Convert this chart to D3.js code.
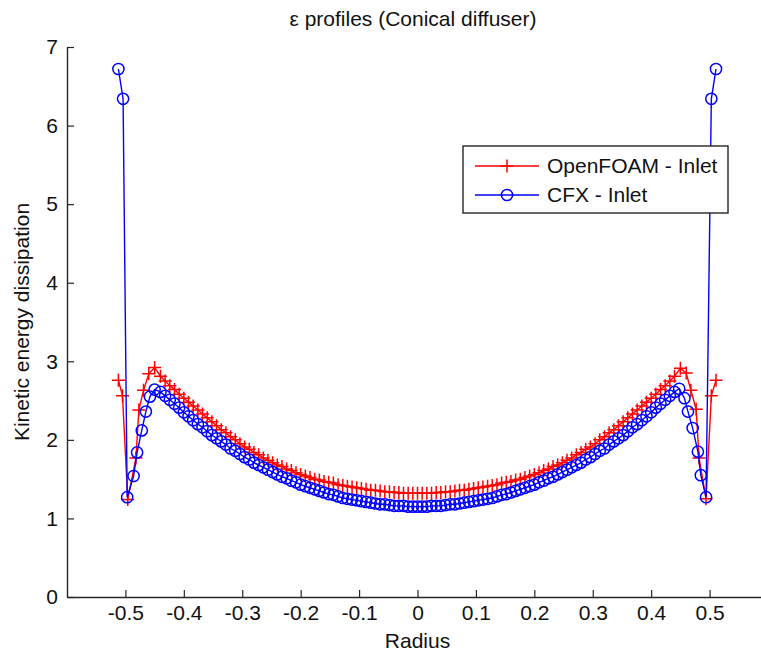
<!DOCTYPE html>
<html>
<head>
<meta charset="utf-8">
<script src="https://cdn.jsdelivr.net/npm/d3@7"></script>
<style>
  html, body { margin: 0; padding: 0; background: #fff; }
  svg { display: block; }
  text { font-family: "Liberation Sans", Arial, sans-serif; fill: #111; }
</style>
</head>
<body>
<div id="chart"></div>
<script>
// ---------- data ----------
const chartTitle = "ε profiles (Conical diffuser)";
const xLabel = "Radius";
const yLabel = "Kinetic energy dissipation";
const seriesNames = ["OpenFOAM - Inlet", "CFX - Inlet"];

const xTicks = [-0.5, -0.4, -0.3, -0.2, -0.1, 0, 0.1, 0.2, 0.3, 0.4, 0.5];
const xTickLabels = ["-0.5", "-0.4", "-0.3", "-0.2", "-0.1", "0", "0.1", "0.2", "0.3", "0.4", "0.5"];
const yTicks = [0, 1, 2, 3, 4, 5, 6, 7];
const yTickLabels = ["0", "1", "2", "3", "4", "5", "6", "7"];

const radiusOpenFOAM = [
  -0.512, -0.505, -0.496, -0.482, -0.477, -0.469, -0.460, -0.450,
  -0.440, -0.432, -0.424, -0.416, -0.408, -0.400, -0.392, -0.384, -0.376, -0.368,
  -0.360, -0.352, -0.344, -0.336, -0.328, -0.320, -0.312, -0.304, -0.296, -0.288,
  -0.280, -0.272, -0.264, -0.256, -0.248, -0.240, -0.232, -0.224, -0.216, -0.208,
  -0.200, -0.192, -0.184, -0.176, -0.168, -0.160, -0.152, -0.144, -0.136, -0.128,
  -0.120, -0.112, -0.104, -0.096, -0.088, -0.080, -0.072, -0.064, -0.056, -0.048,
  -0.040, -0.032, -0.024, -0.016, -0.008, 0.000,
  0.008, 0.016, 0.024, 0.032, 0.040, 0.048, 0.056, 0.064, 0.072, 0.080,
  0.088, 0.096, 0.104, 0.112, 0.120, 0.128, 0.136, 0.144, 0.152, 0.160,
  0.168, 0.176, 0.184, 0.192, 0.200, 0.208, 0.216, 0.224, 0.232, 0.240,
  0.248, 0.256, 0.264, 0.272, 0.280, 0.288, 0.296, 0.304, 0.312, 0.320,
  0.328, 0.336, 0.344, 0.352, 0.360, 0.368, 0.376, 0.384, 0.392, 0.400,
  0.408, 0.416, 0.424, 0.432, 0.440,
  0.450, 0.460, 0.468, 0.477, 0.482, 0.494, 0.503, 0.511
];
const epsOpenFOAM = [
  2.76, 2.56, 1.24, 1.77, 2.38, 2.63, 2.84, 2.92,
  2.81, 2.75, 2.69, 2.64, 2.58, 2.53, 2.48, 2.43, 2.38, 2.33,
  2.28, 2.23, 2.18, 2.13, 2.09, 2.04, 2.00, 1.95, 1.91, 1.88,
  1.84, 1.81, 1.77, 1.74, 1.71, 1.68, 1.66, 1.63, 1.61, 1.58,
  1.56, 1.54, 1.52, 1.50, 1.49, 1.47, 1.46, 1.45, 1.43, 1.42,
  1.41, 1.40, 1.39, 1.38, 1.37, 1.36, 1.36, 1.35, 1.34, 1.34,
  1.33, 1.33, 1.32, 1.32, 1.32, 1.32,
  1.32, 1.32, 1.32, 1.33, 1.33, 1.34, 1.34, 1.35, 1.36, 1.36,
  1.37, 1.38, 1.39, 1.40, 1.41, 1.42, 1.43, 1.45, 1.46, 1.47,
  1.49, 1.50, 1.52, 1.54, 1.56, 1.58, 1.61, 1.63, 1.66, 1.68,
  1.71, 1.74, 1.77, 1.81, 1.84, 1.88, 1.91, 1.95, 2.00, 2.04,
  2.09, 2.13, 2.18, 2.23, 2.28, 2.33, 2.38, 2.43, 2.48, 2.53,
  2.58, 2.64, 2.69, 2.75, 2.81,
  2.91, 2.85, 2.63, 2.39, 1.77, 1.25, 2.56, 2.76
];

const radiusCFX = [
  -0.512, -0.504, -0.497, -0.486, -0.480, -0.472, -0.465, -0.458, -0.450,
  -0.440, -0.432, -0.424, -0.416, -0.408, -0.400, -0.392, -0.384, -0.376, -0.368,
  -0.360, -0.352, -0.344, -0.336, -0.328, -0.320, -0.312, -0.304, -0.296, -0.288,
  -0.280, -0.272, -0.264, -0.256, -0.248, -0.240, -0.232, -0.224, -0.216, -0.208,
  -0.200, -0.192, -0.184, -0.176, -0.168, -0.160, -0.152, -0.144, -0.136, -0.128,
  -0.120, -0.112, -0.104, -0.096, -0.088, -0.080, -0.072, -0.064, -0.056, -0.048,
  -0.040, -0.032, -0.024, -0.016, -0.008, 0.000,
  0.008, 0.016, 0.024, 0.032, 0.040, 0.048, 0.056, 0.064, 0.072, 0.080,
  0.088, 0.096, 0.104, 0.112, 0.120, 0.128, 0.136, 0.144, 0.152, 0.160,
  0.168, 0.176, 0.184, 0.192, 0.200, 0.208, 0.216, 0.224, 0.232, 0.240,
  0.248, 0.256, 0.264, 0.272, 0.280, 0.288, 0.296, 0.304, 0.312, 0.320,
  0.328, 0.336, 0.344, 0.352, 0.360, 0.368, 0.376, 0.384, 0.392, 0.400,
  0.408, 0.416, 0.424, 0.432, 0.440,
  0.448, 0.457, 0.463, 0.471, 0.480, 0.485, 0.494, 0.503, 0.511
];
const epsCFX = [
  6.72, 6.34, 1.27, 1.54, 1.84, 2.12, 2.36, 2.55, 2.64,
  2.61, 2.56, 2.51, 2.46, 2.41, 2.35, 2.30, 2.25, 2.20, 2.16,
  2.11, 2.06, 2.02, 1.98, 1.94, 1.89, 1.86, 1.82, 1.78, 1.75,
  1.71, 1.68, 1.65, 1.62, 1.59, 1.56, 1.53, 1.51, 1.48, 1.46,
  1.43, 1.41, 1.39, 1.37, 1.35, 1.33, 1.31, 1.30, 1.28, 1.26,
  1.25, 1.24, 1.23, 1.22, 1.21, 1.20, 1.19, 1.18, 1.18, 1.17,
  1.16, 1.16, 1.16, 1.15, 1.15, 1.15,
  1.15, 1.15, 1.16, 1.16, 1.16, 1.17, 1.18, 1.18, 1.19, 1.20,
  1.21, 1.22, 1.23, 1.24, 1.25, 1.26, 1.28, 1.30, 1.31, 1.33,
  1.35, 1.37, 1.39, 1.41, 1.43, 1.46, 1.48, 1.51, 1.53, 1.56,
  1.59, 1.62, 1.65, 1.68, 1.71, 1.75, 1.78, 1.82, 1.86, 1.89,
  1.94, 1.98, 2.02, 2.06, 2.11, 2.16, 2.20, 2.25, 2.30, 2.35,
  2.41, 2.46, 2.51, 2.56, 2.61,
  2.65, 2.53, 2.36, 2.15, 1.85, 1.55, 1.27, 6.34, 6.72
];

// ---------- drawing ----------
const W = 761, H = 653;
const svg = d3.select("#chart").append("svg").attr("width", W).attr("height", H);

const x = d3.scaleLinear().domain([-0.6, 0.6]).range([67, 768]);
const y = d3.scaleLinear().domain([0, 7]).range([597, 47]);

const FONT = 21;

// axes
const xAxis = d3.axisBottom(x).tickValues(xTicks)
  .tickFormat((d, i) => xTickLabels[i])
  .tickSizeInner(-7).tickSizeOuter(0).tickPadding(8);
const gx = svg.append("g").attr("transform", `translate(0,${y(0)})`).call(xAxis);

const yAxis = d3.axisLeft(y).tickValues(yTicks)
  .tickFormat((d, i) => yTickLabels[i])
  .tickSizeInner(-7).tickSizeOuter(0).tickPadding(9);
const gy = svg.append("g").attr("transform", `translate(${x(-0.6)},0)`).call(yAxis);

[gx, gy].forEach(g => {
  g.select(".domain").attr("stroke", "#262626").attr("stroke-width", 1.4);
  g.selectAll(".tick line").attr("stroke", "#262626").attr("stroke-width", 1.2);
  g.selectAll(".tick text").attr("font-size", FONT)
    .attr("font-family", "'Liberation Sans', Arial, sans-serif").attr("fill", "#111");
});

// title and labels
svg.append("text").attr("x", 413).attr("y", 26).attr("text-anchor", "middle")
  .attr("font-size", FONT).text(chartTitle);
svg.append("text").attr("x", x(0)).attr("y", 648).attr("text-anchor", "middle")
  .attr("font-size", FONT).text(xLabel);
svg.append("text").attr("transform", `translate(29,${y(3.5)}) rotate(-90)`)
  .attr("text-anchor", "middle").attr("font-size", FONT).text(yLabel);

// series
const series = [
  { name: seriesNames[0], xs: radiusOpenFOAM, ys: epsOpenFOAM, color: "#ff0000", marker: "plus" },
  { name: seriesNames[1], xs: radiusCFX, ys: epsCFX, color: "#0000ff", marker: "circle" }
];

const line = d3.line().x(d => x(d[0])).y(d => y(d[1]));

function drawMarker(g, type, cx, cy, color) {
  if (type === "plus") {
    g.append("path")
      .attr("d", `M${cx - 6.5},${cy}H${cx + 6.5}M${cx},${cy - 6.5}V${cy + 6.5}`)
      .attr("stroke", color).attr("stroke-width", 1.5).attr("fill", "none");
  } else {
    g.append("circle").attr("cx", cx).attr("cy", cy).attr("r", 5.6)
      .attr("stroke", color).attr("stroke-width", 1.5).attr("fill", "none");
  }
}

series.forEach(s => {
  const pts = s.xs.map((v, i) => [v, s.ys[i]]);
  const g = svg.append("g");
  g.append("path").attr("d", line(pts)).attr("fill", "none")
    .attr("stroke", s.color).attr("stroke-width", 1.4);
  pts.forEach(p => drawMarker(g, s.marker, x(p[0]), y(p[1]), s.color));
});

// legend
const lg = svg.append("g");
lg.append("rect").attr("x", 463).attr("y", 146).attr("width", 265).attr("height", 67)
  .attr("fill", "#fff").attr("stroke", "#262626").attr("stroke-width", 1.4);
series.forEach((s, i) => {
  const cy = 166 + i * 29;
  lg.append("line").attr("x1", 475).attr("x2", 539).attr("y1", cy).attr("y2", cy)
    .attr("stroke", s.color).attr("stroke-width", 1.3);
  drawMarker(lg, s.marker, 507, cy, s.color);
  lg.append("text").attr("x", 547).attr("y", cy + 7).attr("font-size", FONT).text(s.name);
});
</script>
</body>
</html>
